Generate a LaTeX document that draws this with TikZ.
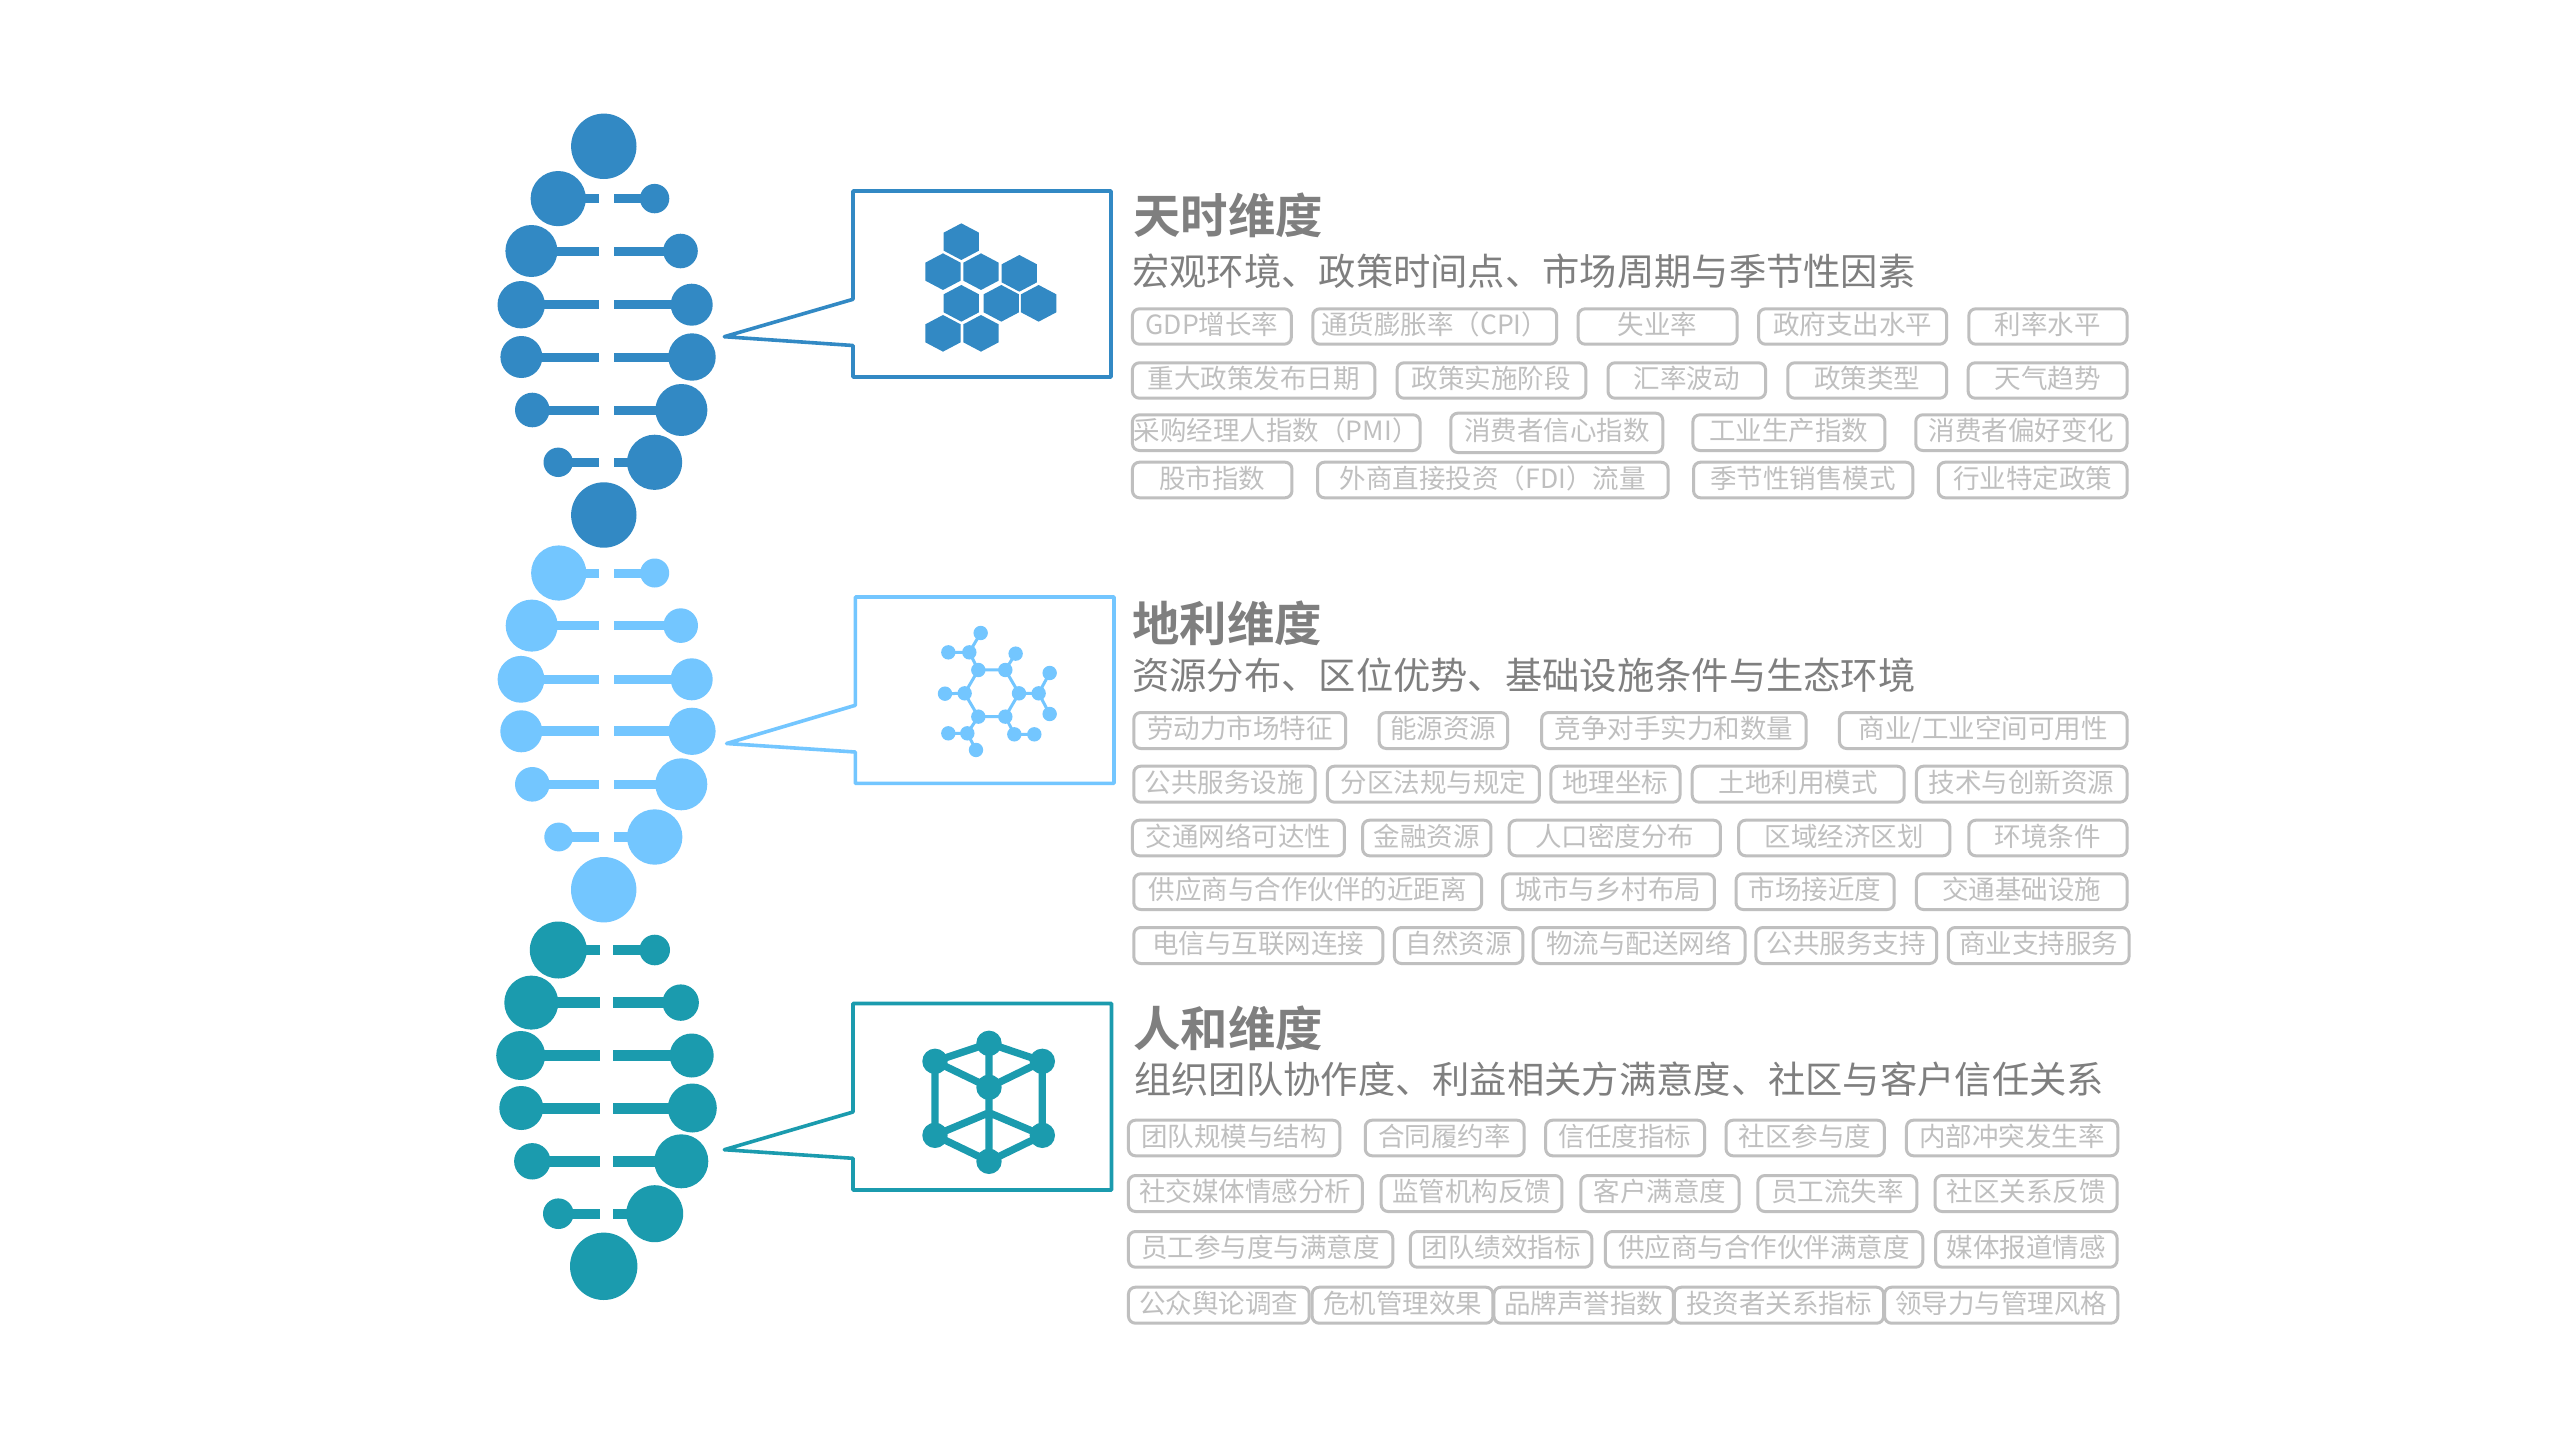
\documentclass[tikz,border=0pt]{standalone}
\usepackage{fontspec}
\setmainfont{Noto Sans CJK SC}[BoldFont={Noto Sans CJK SC Bold}]
\newfontfamily\subfont{Noto Sans CJK SC}
\definecolor{cblue}{RGB}{50,137,196}
\definecolor{clight}{RGB}{115,198,255}
\definecolor{cteal}{RGB}{27,155,174}
\definecolor{ctitle}{RGB}{127,127,127}
\definecolor{ctag}{RGB}{191,191,191}
\tikzset{
  tagbox/.style={draw=ctag,line width=3pt,rounded corners=7pt,inner sep=0pt,text=ctag,
    font=\fontsize{26.5}{30}\selectfont},
  titlebox/.style={anchor=base west,inner sep=0pt,text=ctitle,font=\bfseries\fontsize{47.4}{52}\selectfont},
  subbox/.style={anchor=base west,inner sep=0pt,text=ctitle,font=\subfont\fontsize{37.3}{42}\selectfont},
  callout/.style={line width=3.6pt,line join=round,fill=white},
}
\newcounter{tagno}
% vertical extent of the current row of tags, outer edges
\newcommand{\setrow}[2]{\def\rowtop{#1}\def\rowbot{#2}}
% tag: outer left and right edges, given in px, and its text
\newcommand{\tg}[3]{%
  \stepcounter{tagno}%
  \pgfmathsetmacro\xa{1120+#1/1.5077+0.5}%
  \pgfmathsetmacro\xb{1120+#2/1.5077+0.2}%
  \pgfmathsetmacro\xc{(\xa+\xb)/2}%
  \pgfmathsetmacro\yc{(\rowtop+\rowbot)/2}%
  \pgfmathsetmacro\bw{\xb-\xa}%
  \pgfmathsetmacro\bh{\rowbot-\rowtop-3}%
  \node[tagbox,minimum width=\bw pt,minimum height=\bh pt] (tag\thetagno) at (\xc,\yc)
    {\makebox[0pt][c]{\raisebox{-8pt}[0pt][0pt]{#3}}};%
}
% rung: y, left x, left r, right x, right r, bar thickness, bar inner ends, colour
\newcommand{\rung}[9]{%
  \fill[#9] (#2,#1-#6/2) rectangle (#7,#1+#6/2);
  \fill[#9] (#8,#1-#6/2) rectangle (#4,#1+#6/2);
  \fill[#9] (#2,#1) circle[radius=#3pt];
  \fill[#9] (#4,#1) circle[radius=#5pt];
}
\begin{document}
\begin{tikzpicture}[x=1pt,y=-1pt]
\useasboundingbox (0,0) rectangle (2560,1440);
\fill[white] (0,0) rectangle (2560,1440);

% --- top helix
\fill[cblue] (603.8,146.3) circle[radius=32.7pt];
\rung{198.6}{558.2}{27.6}{654.6}{14.7}{9}{598.8}{614}{cblue}
\rung{251}{531.4}{26}{680.5}{17.3}{9}{598.8}{614}{cblue}
\rung{304.7}{521.2}{23.7}{691.7}{21}{9}{598.8}{614}{cblue}
\rung{357}{521.4}{21}{692}{23.7}{9}{598.8}{614}{cblue}
\rung{410}{532.3}{17.3}{681.4}{26}{9}{598.8}{614}{cblue}
\rung{462.3}{558.2}{14.7}{654.6}{27.6}{9}{598.8}{614}{cblue}
\fill[cblue] (603.8,515) circle[radius=32.7pt];

% --- middle helix
\rung{573}{558.7}{27.6}{654.7}{14.5}{9}{599}{614}{clight}
\rung{625.6}{531.7}{26}{680.7}{17.3}{9}{599}{614}{clight}
\rung{679.3}{521}{23.4}{691.7}{21}{9.5}{599}{614}{clight}
\rung{731.3}{521.3}{21}{692}{23.6}{10}{599}{614}{clight}
\rung{784.3}{532.3}{17.3}{681.3}{26}{9.5}{599}{614}{clight}
\rung{837}{558.7}{14.4}{654.7}{27.7}{9.5}{599}{614}{clight}
\fill[clight] (603.7,889.7) circle[radius=32.7pt];

% --- bottom helix
\rung{950}{558.3}{28.5}{654.7}{15.3}{10.5}{600}{613}{cteal}
\rung{1002.6}{531.3}{27}{680.7}{18.2}{11}{600}{613}{cteal}
\rung{1055.5}{520.7}{24.5}{691.7}{22}{11}{600}{613}{cteal}
\rung{1108}{521.3}{22}{692.3}{24.5}{11}{600}{613}{cteal}
\rung{1161.3}{532.3}{18.2}{681.3}{27}{11}{600}{613}{cteal}
\rung{1213.7}{558.3}{15.3}{654.7}{28.5}{10}{600}{613}{cteal}
\fill[cteal] (603.7,1266.3) circle[radius=33.7pt];

% --- callouts
\draw[callout,draw=cblue] (724.3,336.7) -- (853,299.3) -- (853,191) -- (1111,191) -- (1111,377) -- (853,377) -- (853,345.5) -- cycle;
\draw[callout,draw=clight] (726.6,743.5) -- (855.3,705.3) -- (855.3,597) -- (1114,597) -- (1114,783.3) -- (855.3,783.3) -- (855.3,752) -- cycle;
\draw[callout,draw=cteal] (724.3,1149.7) -- (853,1112) -- (853,1003.5) -- (1111.5,1003.5) -- (1111.5,1190) -- (853,1190) -- (853,1158.3) -- cycle;

% --- hexagon icon
\begin{scope}[shift={(840,180)},x=0.3333pt,y=-0.3333pt]
\foreach \hx/\hy in {364/185,309/275,423/275,538/280,364/370,484/370,596/370,309/460,423/460}
  \fill[cblue] (\hx,\hy) +(0,-55) -- +(53,-27) -- +(53,27) -- +(0,55) -- +(-53,27) -- +(-53,-27) -- cycle;
\end{scope}

% --- molecule icon
\begin{scope}[shift={(840,590)},x=0.3333pt,y=-0.3333pt]
\draw[clight,line width=3pt] (415,240) -- (496,240) -- (537,310) -- (496,380) -- (415,380) -- (374,310) -- cycle;
\draw[clight,line width=3pt] (415,240) -- (388,187) -- (325,187) (388,187) -- (422,129)
  (496,240) -- (527,191) (537,310) -- (596,310) -- (629,249) (596,310) -- (629,372)
  (496,380) -- (523,433) -- (583,433) (415,380) -- (382,430) -- (325,430) (382,430) -- (408,480)
  (374,310) -- (315,311);
\foreach \mx/\my in {415/240,496/240,537/310,496/380,415/380,374/310,388/187,325/187,422/129,527/191,596/310,629/249,629/372,523/433,583/433,382/430,325/430,408/480,315/311}
  \fill[clight] (\mx,\my) circle[radius=7.2pt];
\end{scope}

% --- cube icon
\begin{scope}[shift={(840,1000)},x=0.3333pt,y=-0.3333pt]
\draw[cteal,line width=7.3pt] (285,184) -- (447,130) -- (607,184) -- (447,262) -- cycle
  (447,130) -- (447,484) (285,184) -- (285,406) -- (447,338) -- (607,406) -- (607,184)
  (285,406) -- (447,484) -- (607,406);
\foreach \cx/\cy in {447/130,285/184,607/184,447/262,285/406,607/406,447/484}
  \fill[cteal] (\cx,\cy) circle[radius=12.7pt];
\end{scope}

% --- texts, first block
\node[titlebox] (title1) at (1133,233) {天时维度};
\node[subbox] (sub1) at (1132,285) {宏观环境、政策时间点、市场周期与季节性因素};
\setrow{307.3}{345.7}
\tg{18}{258}{GDP增长率}
\tg{290}{658}{通货膨胀率（CPI）}
\tg{690}{930}{失业率}
\tg{962}{1246}{政府支出水平}
\tg{1279}{1518}{利率水平}
\setrow{361.3}{399.7}
\tg{18}{384}{重大政策发布日期}
\tg{417}{702}{政策实施阶段}
\tg{735}{973}{汇率波动}
\tg{1006}{1246}{政策类型}
\tg{1278}{1518}{天气趋势}
\setrow{413.3}{452}
\tg{18}{452}{采购经理人指数（PMI）}
\setrow{411.7}{454}
\tg{498}{818}{消费者信心指数}
\setrow{413.3}{452}
\tg{863}{1153}{工业生产指数}
\tg{1199}{1518}{消费者偏好变化}
\setrow{460.7}{499.3}
\tg{18}{259}{股市指数}
\tg{297}{826}{外商直接投资（FDI）流量}
\tg{864}{1195}{季节性销售模式}
\tg{1233}{1518}{行业特定政策}

% --- second block
\node[titlebox] (title2) at (1132,641.2) {地利维度};
\node[subbox] (sub2) at (1132,689) {资源分布、区位优势、基础设施条件与生态环境};
\setrow{711}{750}
\tg{20}{340}{劳动力市场特征}
\tg{390}{584}{能源资源}
\tg{635}{1034}{竞争对手实力和数量}
\tg{1084}{1518}{商业/工业空间可用性}
\setrow{764.7}{803.7}
\tg{20}{294}{公共服务设施}
\tg{312}{632}{分区法规与规定}
\tg{649}{844}{地理坐标}
\tg{862}{1182}{土地利用模式}
\tg{1200}{1518}{技术与创新资源}
\setrow{818.7}{857.3}
\tg{18}{338}{交通网络可达性}
\tg{365}{559}{金融资源}
\tg{586}{905}{人口密度分布}
\tg{932}{1251}{区域经济区划}
\tg{1279}{1518}{环境条件}
\setrow{872.3}{911}
\tg{20}{545}{供应商与合作伙伴的近距离}
\tg{576}{896}{城市与乡村布局}
\tg{928}{1167}{市场接近度}
\tg{1200}{1518}{交通基础设施}
\setrow{926}{965}
\tg{20}{396}{电信与互联网连接}
\tg{413}{607}{自然资源}
\tg{622}{942}{物流与配送网络}
\tg{958}{1231}{公共服务支持}
\tg{1248}{1521}{商业支持服务}

% --- third block
\node[titlebox] (title3) at (1133,1046) {人和维度};
\node[subbox] (sub3) at (1134,1093) {组织团队协作度、利益相关方满意度、社区与客户信任关系};
\setrow{1118.7}{1157.3}
\tg{12}{331}{团队规模与结构}
\tg{369}{609}{合同履约率}
\tg{641}{881}{信任度指标}
\tg{913}{1152}{社区参与度}
\tg{1185}{1504}{内部冲突发生率}
\setrow{1174}{1213}
\tg{12}{365}{社交媒体情感分析}
\tg{393}{666}{监管机构反馈}
\tg{694}{933}{客户满意度}
\tg{961}{1201}{员工流失率}
\tg{1228}{1503}{社区关系反馈}
\setrow{1230}{1268.7}
\tg{12}{411}{员工参与度与满意度}
\tg{437}{711}{团队绩效指标}
\tg{731}{1210}{供应商与合作伙伴满意度}
\tg{1229}{1503}{媒体报道情感}
\setrow{1285.7}{1324.7}
\tg{12}{285}{公众舆论调查}
\tg{289}{562}{危机管理效果}
\tg{563}{834}{品牌声誉指数}
\tg{835}{1151}{投资者关系指标}
\tg{1152}{1504}{领导力与管理风格}
\end{tikzpicture}
\end{document}
